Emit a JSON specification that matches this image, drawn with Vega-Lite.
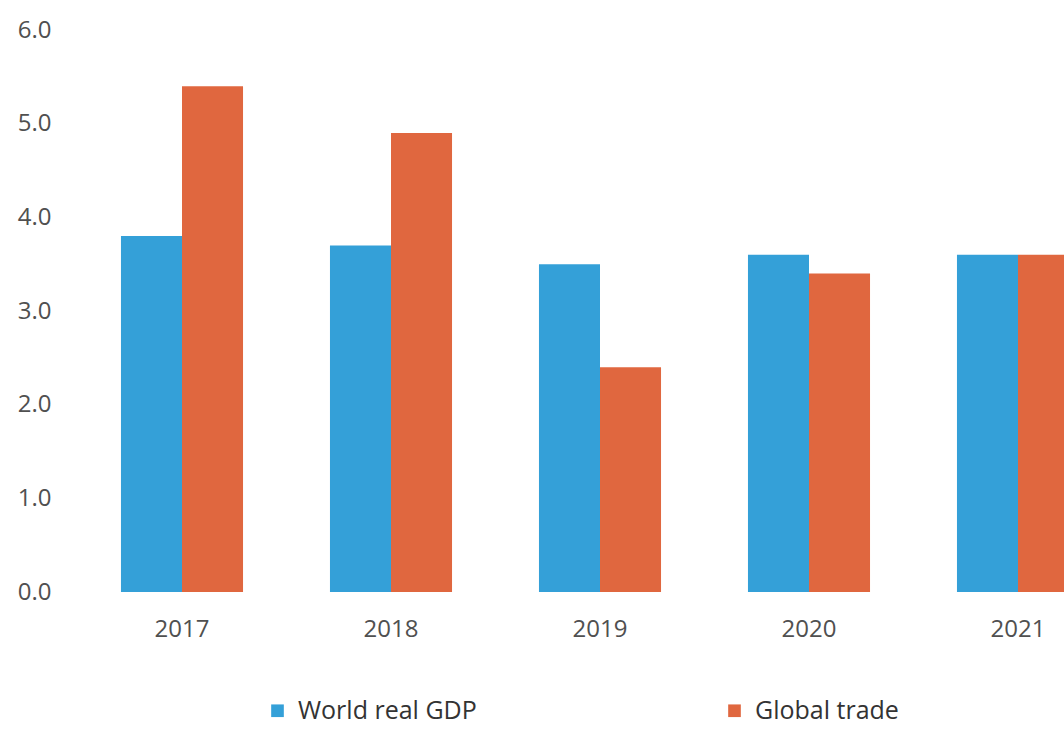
{
  "$schema": "https://vega.github.io/schema/vega-lite/v6.json",
  "width": 1004,
  "height": 562,
  "autosize": {"type": "none"},
  "padding": {"left": 60, "top": 30, "right": 0, "bottom": 137},
  "background": "white",
  "config": {"view": {"stroke": null}, "font": "Open Sans"},
  "data": {
    "values": [
      {"year": "2017", "series": "World real GDP", "value": 3.8},
      {"year": "2017", "series": "Global trade", "value": 5.4},
      {"year": "2018", "series": "World real GDP", "value": 3.7},
      {"year": "2018", "series": "Global trade", "value": 4.9},
      {"year": "2019", "series": "World real GDP", "value": 3.5},
      {"year": "2019", "series": "Global trade", "value": 2.4},
      {"year": "2020", "series": "World real GDP", "value": 3.6},
      {"year": "2020", "series": "Global trade", "value": 3.4},
      {"year": "2021", "series": "World real GDP", "value": 3.6},
      {"year": "2021", "series": "Global trade", "value": 3.6}
    ]
  },
  "mark": {"type": "bar", "clip": true},
  "encoding": {
    "x": {
      "field": "year", "type": "nominal",
      "scale": {"range": [17.5, 1062.5], "paddingInner": 0.416, "paddingOuter": 0.208},
      "axis": {"title": null, "domain": false, "ticks": false, "labelAngle": 0, "labelFontSize": 24, "labelColor": "#505050", "labelPadding": 25, "labelFont": "Open Sans"}
    },
    "xOffset": {"field": "series", "type": "nominal", "sort": ["World real GDP", "Global trade"], "scale": {"paddingInner": 0, "paddingOuter": 0}},
    "y": {
      "field": "value", "type": "quantitative",
      "scale": {"domain": [0, 6], "nice": false},
      "axis": {"title": null, "domain": false, "ticks": false, "grid": false, "values": [0, 1, 2, 3, 4, 5, 6], "format": ".1f", "labelFontSize": 24, "labelColor": "#505050", "labelPadding": 9, "labelFont": "Open Sans"}
    },
    "color": {
      "field": "series", "type": "nominal",
      "sort": ["World real GDP", "Global trade"],
      "scale": {"domain": ["World real GDP", "Global trade"], "range": ["#34a0d8", "#e0673f"]},
      "legend": {
        "title": null, "orient": "none", "legendX": 205, "legendY": 668,
        "direction": "horizontal", "columns": 2, "columnPadding": 245,
        "symbolType": "square", "symbolSize": 160, "symbolStrokeWidth": 0,
        "labelFontSize": 25, "labelLimit": 0, "labelColor": "#333333", "labelFont": "Open Sans", "labelOffset": 8
      }
    }
  }
}
